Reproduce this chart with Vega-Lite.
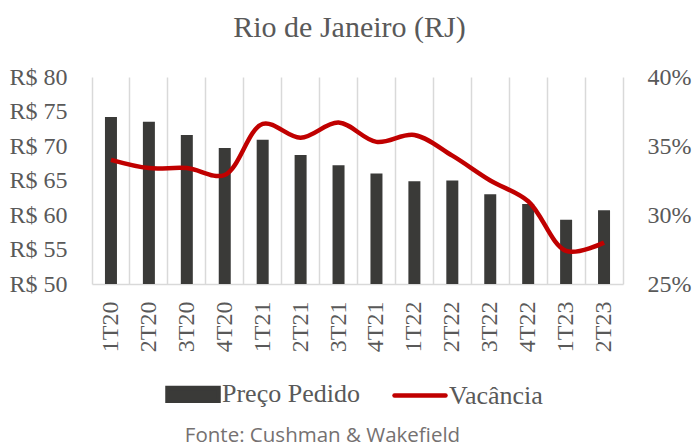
{
  "$schema": "https://vega.github.io/schema/vega-lite/v6.json",
  "width": 531,
  "height": 207,
  "autosize": {"type": "none"},
  "padding": {"left": 92, "top": 77, "right": 71, "bottom": 162},
  "background": "white",
  "title": {
    "text": "Rio de Janeiro (RJ)",
    "font": "Liberation Serif",
    "fontSize": 30,
    "fontWeight": "normal",
    "color": "#595959",
    "anchor": "middle",
    "dx": -8,
    "offset": 22
  },
  "config": {
    "view": {"stroke": null},
    "axis": {"labelFont": "Liberation Serif", "labelFontSize": 24, "labelColor": "#595959"}
  },
  "data": {
    "values": [
      {"tri": "1T20", "preco": 74.2, "vac": 0.340},
      {"tri": "2T20", "preco": 73.5, "vac": 0.334},
      {"tri": "3T20", "preco": 71.6, "vac": 0.334},
      {"tri": "4T20", "preco": 69.7, "vac": 0.329},
      {"tri": "1T21", "preco": 70.9, "vac": 0.366},
      {"tri": "2T21", "preco": 68.7, "vac": 0.356},
      {"tri": "3T21", "preco": 67.2, "vac": 0.367},
      {"tri": "4T21", "preco": 66.0, "vac": 0.353},
      {"tri": "1T22", "preco": 64.9, "vac": 0.358},
      {"tri": "2T22", "preco": 65.0, "vac": 0.343},
      {"tri": "3T22", "preco": 63.0, "vac": 0.325},
      {"tri": "4T22", "preco": 61.6, "vac": 0.310},
      {"tri": "1T23", "preco": 59.3, "vac": 0.274},
      {"tri": "2T23", "preco": 60.7, "vac": 0.280}
    ]
  },
  "encoding": {
    "x": {
      "field": "tri",
      "type": "nominal",
      "sort": null,
      "scale": {"paddingInner": 0, "paddingOuter": 0},
      "axis": {
        "title": "Fonte: Cushman & Wakefield",
        "titleFont": "Open Sans",
        "titleFontSize": 20.5,
        "titleFontWeight": "normal",
        "titleColor": "#757171",
        "titleAnchor": "start",
        "titleAlign": "center",
        "titleX": 230,
        "titleY": 157,
        "titleBaseline": "alphabetic",
        "labelAngle": 270,
        "labelPadding": 17,
        "ticks": false,
        "grid": true,
        "gridColor": "#d9d9d9",
        "gridWidth": 1.5,
        "bandPosition": 1,
        "tickExtra": true,
        "domainColor": "#d9d9d9",
        "domainWidth": 1.5
      }
    }
  },
  "layer": [
    {
      "mark": {"type": "bar", "size": 12},
      "encoding": {
        "y": {
          "field": "preco",
          "type": "quantitative",
          "scale": {"domain": [50, 80], "nice": false, "zero": false},
          "axis": {
            "title": null,
            "values": [50, 55, 60, 65, 70, 75, 80],
            "labelExpr": "'R$ ' + datum.value",
            "domain": false,
            "ticks": false,
            "grid": false,
            "labelPadding": 25
          }
        },
        "y2": {"datum": 50},
        "color": {
          "datum": "Preço Pedido",
          "type": "nominal",
          "scale": {"domain": ["Preço Pedido", "Vacância"], "range": ["#3a3a38", "#c00000"]},
          "legend": {
            "title": null,
            "orient": "none",
            "direction": "horizontal",
            "legendX": 73,
            "legendY": 289,
            "labelFont": "Liberation Serif",
            "labelFontSize": 26,
            "labelColor": "#595959",
            "labelOffset": 1,
            "columnPadding": 25,
            "symbolSize": 2601,
            "encode": {
              "symbols": {
                "update": {
                  "shape": {"signal": "datum.value === 'Preço Pedido' ? 'M-1,-0.25H1V0.25H-1Z' : 'M-1,0H1'"},
                  "fill": {"signal": "datum.value === 'Preço Pedido' ? '#3a3a38' : 'transparent'"},
                  "stroke": {"signal": "datum.value === 'Preço Pedido' ? 'transparent' : '#c00000'"},
                  "strokeWidth": {"value": 4.5},
                  "strokeCap": {"value": "round"},
                  "opacity": {"value": 1}
                }
              }
            }
          }
        }
      }
    },
    {
      "mark": {"type": "line", "strokeWidth": 4.5, "interpolate": "catmull-rom"},
      "encoding": {
        "y": {
          "field": "vac",
          "type": "quantitative",
          "scale": {"domain": [0.25, 0.40], "nice": false},
          "axis": {
            "title": null,
            "orient": "right",
            "values": [0.25, 0.30, 0.35, 0.40],
            "format": ".0%",
            "domain": false,
            "ticks": false,
            "grid": false,
            "labelPadding": 24
          }
        },
        "color": {"datum": "Vacância", "type": "nominal"}
      }
    }
  ],
  "resolve": {"scale": {"y": "independent"}}
}
